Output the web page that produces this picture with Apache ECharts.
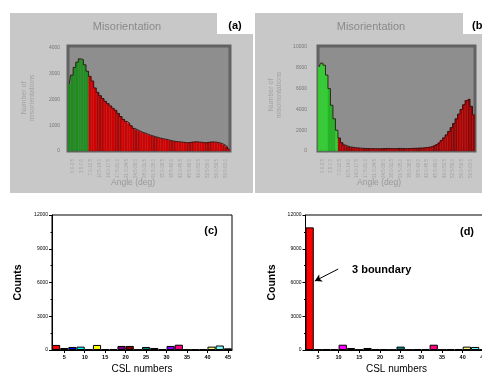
<!DOCTYPE html>
<html>
<head>
<meta charset="utf-8">
<script src="https://cdn.jsdelivr.net/npm/echarts@6/dist/echarts.min.js"></script>
<style>html,body{margin:0;padding:0;background:#fff}#c{width:482px;height:374px}</style>
</head>
<body>
<div id="c"></div>
<script>
// ---- Data ----
// (a) misorientation histogram, 1-degree bins from 0 to 63 deg
const misoA = [2600,2950,3250,3450,3580,3550,3350,3100,
  2900,2720,2450,2280,2150,2040,1930,1840,1750,1660,1580,1460,1340,1230,1150,1080,980,880,830,780,730,700,
  660,620,590,560,530,500,480,460,440,410,390,370,360,350,340,330,320,340,350,360,350,340,330,320,340,350,
  350,340,320,290,240,170,80];
// (b) misorientation histogram
const misoB = [8100,8450,8250,7300,6000,4400,3100,2000,
  1250,800,580,470,400,360,330,300,280,260,250,240,230,230,220,220,220,230,240,250,240,230,230,240,250,240,
  230,230,240,250,260,270,280,290,310,340,370,420,520,650,820,1020,1270,1550,1880,2250,2650,3100,3550,4000,
  4450,4850,5000,4300,3500];
const lowAngleBins = 8;   // number of green (low-angle) bins
const angleTickLabels = ['0.0-3.5','3.5-7.0','7.0-10.5','10.5-14.0','14.0-17.5','17.5-21.0','21.0-24.5','24.5-28.0',
  '28.0-31.5','31.5-35.0','35.0-38.5','38.5-42.0','42.0-45.5','45.5-49.0','49.0-52.5','52.5-56.0','56.0-59.5','59.5-63.0'];
const binCategories = misoA.map((_, i) => i + '-' + (i + 1));

// (c),(d) CSL distribution
const cslNumbers = [3,5,7,9,11,13,15,17,19,21,23,25,27,29,31,33,35,37,39,41,43,45];
const countsC = [450,180,270,300,90,450,90,90,360,360,40,270,180,90,360,470,60,60,60,300,400,150];
const countsD = [10900,60,90,90,470,180,30,180,90,60,30,300,30,90,90,470,30,90,90,300,270,60];
const cslColors = ['#FF0000','#00FF00','#0000FF','#00FFFF','#FF00FF','#FFFF00','#808000','#000080','#800080','#800000',
  '#008000','#008080','#0000A0','#FF8000','#8000FF','#FF0080','#FFFFFF','#C0C0C0','#808080','#FFFF80','#80FFFF','#FF80FF'];
const cslTicks = [5,10,15,20,25,30,35,40,45];

// ---- Chart ----
const FONT = 'Liberation Sans, Arial, sans-serif';
const chart = echarts.init(document.getElementById('c'), null, {renderer: 'canvas'});
const plain = v => String(v);

function histBars(vals, greens, reds) {
  return vals.map((v, i) => {
    const g = Math.floor(i / 3.5) % 2;
    const col = i < lowAngleBins ? greens[g] : reds[g];
    return {value: v, itemStyle: {color: col, borderColor: col, borderWidth: 0.4}};
  });
}
function cslBars(vals) {
  return vals.map((v, i) => ({value: [cslNumbers[i], v], itemStyle: {color: cslColors[i]}}));
}

const topGrid = {show: true, backgroundColor: '#8e8e8e', borderColor: '#626262', borderWidth: 3, outerBoundsMode: 'none'};
const botGrid = {show: true, backgroundColor: 'transparent', borderColor: '#000', borderWidth: 1, outerBoundsMode: 'none'};

function topYAxis(grid, max, interval, margin) {
  return {type: 'value', gridIndex: grid, min: 0, max: max, interval: interval,
    axisLine: {show: false}, axisTick: {show: false}, splitLine: {show: false},
    axisLabel: {fontSize: 5, color: '#767676', margin: margin, showMaxLabel: false, fontFamily: FONT, formatter: plain}};
}
function topXAxes(grid) {
  return [
    {type: 'category', gridIndex: grid, data: binCategories, axisLabel: {show: false},
      axisTick: {show: false}, axisLine: {show: false}},
    {type: 'category', gridIndex: grid, position: 'bottom', data: angleTickLabels,
      axisTick: {show: false}, axisLine: {show: false},
      axisLabel: {interval: 0, rotate: 90, fontSize: 4.5, color: '#a2a2a2', margin: 8, fontFamily: FONT}}
  ];
}
function botXAxis(grid) {
  return {type: 'value', gridIndex: grid, min: 2, max: 46,
    axisLine: {show: true, lineStyle: {color: '#000', width: 1}},
    axisTick: {show: true, customValues: cslTicks, length: 3, lineStyle: {color: '#000'}},
    axisLabel: {customValues: cslTicks, fontSize: 5.5, fontWeight: 'bold', color: '#000', margin: 4, fontFamily: FONT},
    splitLine: {show: false},
    name: 'CSL numbers', nameLocation: 'middle', nameGap: 14,
    nameTextStyle: {fontSize: 10, color: '#000', fontFamily: FONT}};
}
function botYAxis(grid) {
  return {type: 'value', gridIndex: grid, min: 0, max: 12000, interval: 3000,
    axisLine: {show: true, lineStyle: {color: '#000', width: 1}},
    axisTick: {show: true, length: 3, lineStyle: {color: '#000'}},
    minorTick: {show: true, splitNumber: 2, length: 1.5, lineStyle: {color: '#000'}},
    axisLabel: {fontSize: 5, color: '#000', margin: 4, fontFamily: FONT, formatter: plain},
    splitLine: {show: false},
    name: 'Counts', nameLocation: 'middle', nameGap: 28, nameRotate: 90,
    nameTextStyle: {fontSize: 10.5, fontWeight: 'bold', color: '#000', fontFamily: FONT}};
}

const stepLine = (xi, yi, data) => ({type: 'line', xAxisIndex: xi, yAxisIndex: yi, data: data, step: 'middle',
  symbol: 'none', lineStyle: {color: 'rgba(30,0,0,0.75)', width: 1}, z: 3, silent: true});

const option = {
  animation: false,
  backgroundColor: '#ffffff',
  grid: [
    Object.assign({left: 68, top: 46, width: 162, height: 105}, topGrid),
    Object.assign({left: 318, top: 46, width: 157, height: 105}, topGrid),
    Object.assign({left: 52, top: 215, width: 180, height: 135}, botGrid),
    Object.assign({left: 305.5, top: 215, width: 182, height: 135}, botGrid)
  ],
  xAxis: [].concat(topXAxes(0), topXAxes(1), [botXAxis(2), botXAxis(3)]),
  yAxis: [topYAxis(0, 4080, 1000, 8), topYAxis(1, 10100, 2000, 11), botYAxis(2), botYAxis(3)],
  series: [
    {type: 'bar', xAxisIndex: 0, yAxisIndex: 0, barCategoryGap: '0%',
      data: histBars(misoA, ['#1f8c1f', '#228f22'], ['#d20000', '#b40000']), silent: true},
    stepLine(0, 0, misoA),
    {type: 'bar', xAxisIndex: 2, yAxisIndex: 1, barCategoryGap: '0%',
      data: histBars(misoB, ['#2fd22f', '#22b522'], ['#b00000', '#980000']), silent: true},
    stepLine(2, 1, misoB),
    {type: 'bar', xAxisIndex: 4, yAxisIndex: 2, barWidth: '100%', data: cslBars(countsC),
      itemStyle: {borderColor: '#000', borderWidth: 1}, silent: true},
    {type: 'bar', xAxisIndex: 5, yAxisIndex: 3, barWidth: '100%', data: cslBars(countsD),
      itemStyle: {borderColor: '#000', borderWidth: 1}, silent: true,
      markLine: {silent: true, symbol: ['none', 'arrow'], symbolSize: [6, 7],
        lineStyle: {color: '#000', width: 1, type: 'solid'}, label: {show: false},
        data: [[{coord: [9.9, 7200]}, {coord: [4.25, 6130]}]]}}
  ],
  graphic: [
    {type: 'rect', shape: {x: 10, y: 13, width: 243, height: 180}, style: {fill: '#c8c8c8'}, z: -100},
    {type: 'rect', shape: {x: 255, y: 13, width: 227, height: 180}, style: {fill: '#c8c8c8'}, z: -100},
    {type: 'rect', shape: {x: 217, y: 13, width: 36, height: 21}, style: {fill: '#ffffff'}, z: -90},
    {type: 'rect', shape: {x: 463, y: 13, width: 19, height: 21}, style: {fill: '#ffffff'}, z: -90},
    {type: 'text', x: 235, y: 26, style: {text: '(a)', font: 'bold 11px ' + FONT, fill: '#000', align: 'center', verticalAlign: 'middle'}, z: 100},
    {type: 'text', x: 472, y: 26, style: {text: '(b)', font: 'bold 11px ' + FONT, fill: '#000', align: 'left', verticalAlign: 'middle'}, z: 100},
    {type: 'text', x: 127, y: 27, style: {text: 'Misorientation', font: '11px ' + FONT, fill: '#8a8a8a', align: 'center', verticalAlign: 'middle'}, z: 100},
    {type: 'text', x: 371, y: 27, style: {text: 'Misorientation', font: '11px ' + FONT, fill: '#8a8a8a', align: 'center', verticalAlign: 'middle'}, z: 100},
    {type: 'text', x: 28, y: 98, rotation: Math.PI / 2, style: {text: 'Number of\nmisorientations', font: '7px ' + FONT, lineHeight: 8, fill: '#a2a2a2', align: 'center', verticalAlign: 'middle'}, z: 100},
    {type: 'text', x: 275, y: 95, rotation: Math.PI / 2, style: {text: 'Number of\nmisorientations', font: '7px ' + FONT, lineHeight: 8, fill: '#a2a2a2', align: 'center', verticalAlign: 'middle'}, z: 100},
    {type: 'text', x: 133, y: 183, style: {text: 'Angle (deg)', font: '8.5px ' + FONT, fill: '#999', align: 'center', verticalAlign: 'middle'}, z: 100},
    {type: 'text', x: 379, y: 183, style: {text: 'Angle (deg)', font: '8.5px ' + FONT, fill: '#999', align: 'center', verticalAlign: 'middle'}, z: 100},
    {type: 'text', x: 211, y: 231, style: {text: '(c)', font: 'bold 11px ' + FONT, fill: '#000', align: 'center', verticalAlign: 'middle'}, z: 100},
    {type: 'text', x: 467, y: 232, style: {text: '(d)', font: 'bold 11px ' + FONT, fill: '#000', align: 'center', verticalAlign: 'middle'}, z: 100},
    {type: 'text', x: 352, y: 270, style: {text: '3 boundary', font: 'bold 11px ' + FONT, fill: '#000', align: 'left', verticalAlign: 'middle'}, z: 100}
  ]
};
chart.setOption(option);
</script>
</body>
</html>
